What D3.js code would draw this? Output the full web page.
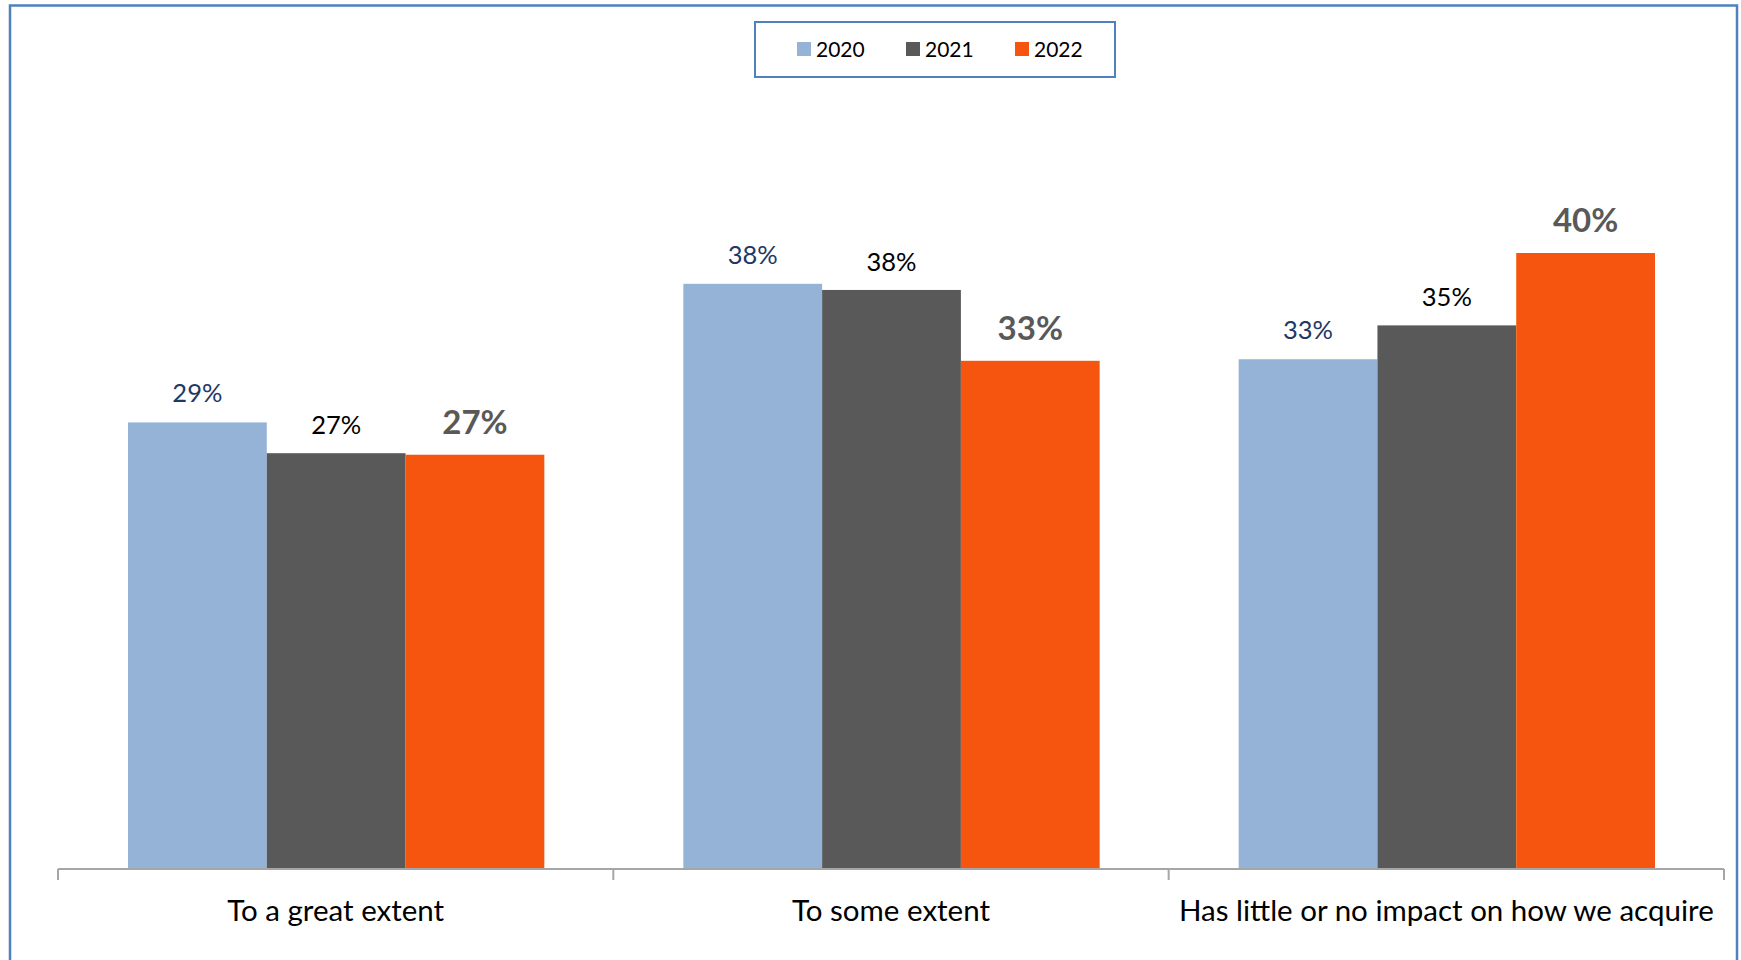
<!DOCTYPE html>
<html>
<head>
<meta charset="utf-8">
<script src="https://cdn.jsdelivr.net/npm/d3@7"></script>
<style>
  html, body { margin: 0; padding: 0; background: #fff; }
  svg { display: block; }
</style>
</head>
<body>
<svg id="chart" width="1741" height="960"></svg>
<script>
const categories = ["To a great extent", "To some extent", "Has little or no impact on how we acquire"];
const seriesNames = ["2020", "2021", "2022"];
const values2020 = [0.290, 0.380, 0.331];
const values2021 = [0.270, 0.376, 0.353];
const values2022 = [0.269, 0.330, 0.400];
const seriesColors = ["#95B3D7", "#595959", "#F5550F"];

const seriesValues = [values2020, values2021, values2022];
const FONT = "Lato, 'Open Sans', sans-serif";

const svg = d3.select("#chart");

// outer frame
svg.append("rect").attr("x", 10).attr("y", 5.5).attr("width", 1727).attr("height", 980)
  .attr("fill", "none").attr("stroke", "#4F81BD").attr("stroke-width", 2.5);

const baseY = 869;
const x0 = d3.scaleBand().domain(categories).range([58, 1724]).paddingInner(0).paddingOuter(0);
const x1 = d3.scaleBand().domain(seriesNames).range([70, x0.bandwidth() - 69]);
const y = d3.scaleLinear().domain([0, 0.5]).range([baseY, baseY - 770]);

// bars
const groups = svg.append("g").selectAll("g").data(categories).join("g")
  .attr("transform", c => `translate(${x0(c)},0)`);

groups.each(function(c, ci) {
  const g = d3.select(this);
  seriesNames.forEach((s, si) => {
    const v = seriesValues[si][ci];
    g.append("rect")
      .attr("x", x1(s)).attr("width", x1.bandwidth())
      .attr("y", y(v)).attr("height", baseY - y(v))
      .attr("fill", seriesColors[si]);
  });
});

// axis
const axG = svg.append("g").attr("transform", `translate(0,${baseY})`);
axG.append("line").attr("x1", 58).attr("x2", 1724).attr("y1", 0).attr("y2", 0)
  .attr("stroke", "#A6A6A6").attr("stroke-width", 2);
const tickPos = categories.map(c => x0(c)).concat([x0.range()[1]]);
axG.selectAll("line.tk").data(tickPos).join("line").attr("class", "tk")
  .attr("x1", d => d).attr("x2", d => d).attr("y1", 0).attr("y2", 11)
  .attr("stroke", "#A6A6A6").attr("stroke-width", 2);

// category labels
svg.append("g").selectAll("text").data(categories).join("text")
  .attr("x", c => x0(c) + x0.bandwidth() / 2)
  .attr("y", 921)
  .attr("text-anchor", "middle")
  .attr("font-family", FONT).attr("font-size", 29.5)
  .attr("fill", "#000")
  .text(c => c);

// data labels
const fmt = d3.format(".0%");
const labelStyles = [
  { color: "#1F3864", size: 25.5, weight: "normal", gap: 20 },
  { color: "#000000", size: 25.5, weight: "normal", gap: 19 },
  { color: "#595959", size: 33, weight: "bold", gap: 21 }
];
groups.each(function(c, ci) {
  const g = d3.select(this);
  seriesNames.forEach((s, si) => {
    const v = seriesValues[si][ci];
    const st = labelStyles[si];
    g.append("text")
      .attr("x", x1(s) + x1.bandwidth() / 2)
      .attr("y", y(v) - st.gap)
      .attr("text-anchor", "middle")
      .attr("font-family", FONT).attr("font-size", st.size).attr("font-weight", st.weight)
      .attr("fill", st.color)
      .text(fmt(v));
  });
});

// legend
const lg = svg.append("g");
lg.append("rect").attr("x", 755).attr("y", 22).attr("width", 360).attr("height", 55)
  .attr("fill", "#fff").attr("stroke", "#4F81BD").attr("stroke-width", 2);
const legX = [797, 906, 1015];
seriesNames.forEach((s, i) => {
  lg.append("rect").attr("x", legX[i]).attr("y", 42).attr("width", 14).attr("height", 14)
    .attr("fill", seriesColors[i]);
  lg.append("text").attr("x", legX[i] + 19).attr("y", 57)
    .attr("font-family", FONT).attr("font-size", 21).attr("fill", "#000").text(s);
});
</script>
</body>
</html>
